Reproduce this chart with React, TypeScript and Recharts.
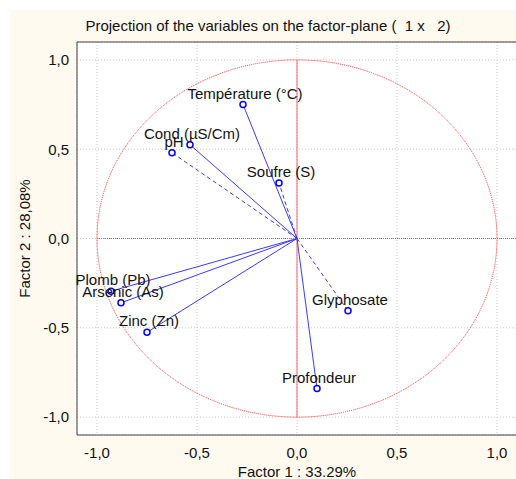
import React from "react";
import {
  ScatterChart,
  Scatter,
  XAxis,
  YAxis,
  CartesianGrid,
  ReferenceLine,
  ReferenceArea,
} from "recharts";

const variables = [
  "Température (°C)",
  "Cond (µS/Cm)",
  "pH",
  "Soufre (S)",
  "Plomb (Pb)",
  "Arsenic (As)",
  "Zinc (Zn)",
  "Glyphosate",
  "Profondeur",
];
const factor1 = [-0.27, -0.535, -0.625, -0.09, -0.93, -0.88, -0.75, 0.255, 0.1];
const factor2 = [0.75, 0.525, 0.48, 0.31, -0.295, -0.36, -0.525, -0.405, -0.84];
// supplementary variables are drawn with dashed vectors
const supplementary = ["pH", "Soufre (S)", "Glyphosate"];

const majorTicks = [-1, -0.5, 0, 0.5, 1];
const minorTicks = [
  -1, -0.9, -0.8, -0.7, -0.6, -0.5, -0.4, -0.3, -0.2, -0.1, 0, 0.1, 0.2, 0.3,
  0.4, 0.5, 0.6, 0.7, 0.8, 0.9, 1,
];

const points = variables.map((name, i) => ({
  name,
  x: factor1[i],
  y: factor2[i],
}));

const FONT = "'Liberation Sans', Arial, sans-serif";
const fmt = (v: number) => v.toFixed(1).replace(".", ",");

const PointShape = (props: any) => {
  const { cx, cy, payload } = props;
  return (
    <g>
      <circle cx={cx} cy={cy} r={3} fill="#fff" stroke="#0000ff" strokeWidth={1.5} />
      <text
        x={cx + 2}
        y={cy - 6}
        textAnchor="middle"
        fontSize={15}
        fontFamily={FONT}
        fill="#111"
      >
        {payload.name}
      </text>
    </g>
  );
};

const UnitCircle = (props: any) => {
  const { x, y, width, height } = props;
  return (
    <ellipse
      cx={x + width / 2}
      cy={y + height / 2}
      rx={width / 2}
      ry={height / 2}
      fill="none"
      stroke="#ff3030"
      strokeWidth={1}
      strokeDasharray="1 1"
    />
  );
};

export default function App() {
  return (
    <div
      style={{
        position: "absolute",
        left: 0,
        top: 0,
        width: 516,
        height: 479,
        overflow: "hidden",
        background: "#fff",
        fontFamily: FONT,
      }}
    >
      <div style={{ position: "absolute", left: 10, top: 10, right: 0, bottom: 0, background: "#fffaf0" }} />
      <div
        style={{
          position: "absolute",
          left: 0,
          top: 17,
          width: 536,
          textAlign: "center",
          fontSize: 15,
          lineHeight: "18px",
          color: "#111",
          whiteSpace: "pre",
        }}
      >
        {"Projection of the variables on the factor-plane (  1 x   2)"}
      </div>
      <div style={{ position: "absolute", left: 0, top: 0 }}>
        <ScatterChart width={517} height={479} margin={{ top: 42, right: 0, bottom: 0, left: 0 }}>
          <CartesianGrid
            xAxisId="b"
            yAxisId="l"
            fill="#fff"
            stroke="#c8c8c8"
            strokeDasharray="1 2"
          />
          <XAxis
            xAxisId="b"
            dataKey="x"
            type="number"
            domain={[-1.1, 1.1]}
            ticks={majorTicks}
            tickFormatter={fmt}
            tickLine={false}
            tickSize={0}
            tickMargin={12}
            height={44}
            axisLine={{ stroke: "#404040" }}
            tick={{ fill: "#111", fontSize: 15, fontFamily: FONT }}
            label={{ value: "Factor 1 : 33.29%", position: "insideBottom", offset: 2, fill: "#111", fontSize: 15, fontFamily: FONT }}
          />
          <XAxis
            xAxisId="bm"
            type="number"
            domain={[-1.1, 1.1]}
            ticks={minorTicks}
            mirror
            tick={false}
            tickSize={4}
            axisLine={false}
            tickLine={{ stroke: "#404040" }}
          />
          <XAxis
            xAxisId="t"
            orientation="top"
            type="number"
            domain={[-1.1, 1.1]}
            ticks={minorTicks}
            mirror
            tick={false}
            tickSize={4}
            axisLine={{ stroke: "#404040" }}
            tickLine={{ stroke: "#404040" }}
          />
          <YAxis
            yAxisId="l"
            dataKey="y"
            type="number"
            domain={[-1.1, 1.1]}
            ticks={majorTicks}
            tickFormatter={fmt}
            tickLine={false}
            tickSize={0}
            tickMargin={8}
            width={77}
            axisLine={{ stroke: "#404040" }}
            tick={{ fill: "#111", fontSize: 15, fontFamily: FONT }}
            label={{
              value: "Factor 2 : 28,08%",
              angle: -90,
              position: "insideLeft",
              offset: 25,
              fill: "#111",
              fontSize: 15,
              fontFamily: FONT,
              style: { textAnchor: "middle" },
            }}
          />
          <YAxis
            yAxisId="lm"
            type="number"
            domain={[-1.1, 1.1]}
            ticks={minorTicks}
            mirror
            tick={false}
            tickSize={4}
            axisLine={false}
            tickLine={{ stroke: "#404040" }}
          />
          <YAxis
            yAxisId="r"
            orientation="right"
            type="number"
            domain={[-1.1, 1.1]}
            ticks={minorTicks}
            mirror
            tick={false}
            tickSize={4}
            axisLine={{ stroke: "#404040" }}
            tickLine={{ stroke: "#404040" }}
          />
          <ReferenceArea
            xAxisId="b"
            yAxisId="l"
            x1={-1}
            x2={1}
            y1={-1}
            y2={1}
            shape={UnitCircle}
          />
          <ReferenceLine
            xAxisId="b"
            yAxisId="l"
            segment={[{ x: 0, y: -1 }, { x: 0, y: 1 }]}
            stroke="#ff6060"
            strokeWidth={1}
          />
          <ReferenceLine
            xAxisId="b"
            yAxisId="l"
            segment={[{ x: -1, y: 0 }, { x: 1.1, y: 0 }]}
            stroke="#ff5050"
            strokeWidth={1}
            strokeDasharray="1 1"
          />
          {points.map((p) => (
            <ReferenceLine
              key={p.name}
              xAxisId="b"
              yAxisId="l"
              segment={[{ x: 0, y: 0 }, { x: p.x, y: p.y }]}
              stroke="#3a3aff"
              strokeWidth={1}
              strokeDasharray={supplementary.includes(p.name) ? "4 3" : undefined}
            />
          ))}
          <Scatter
            xAxisId="b"
            yAxisId="l"
            data={points}
            shape={PointShape}
            isAnimationActive={false}
          />
        </ScatterChart>
      </div>
    </div>
  );
}
